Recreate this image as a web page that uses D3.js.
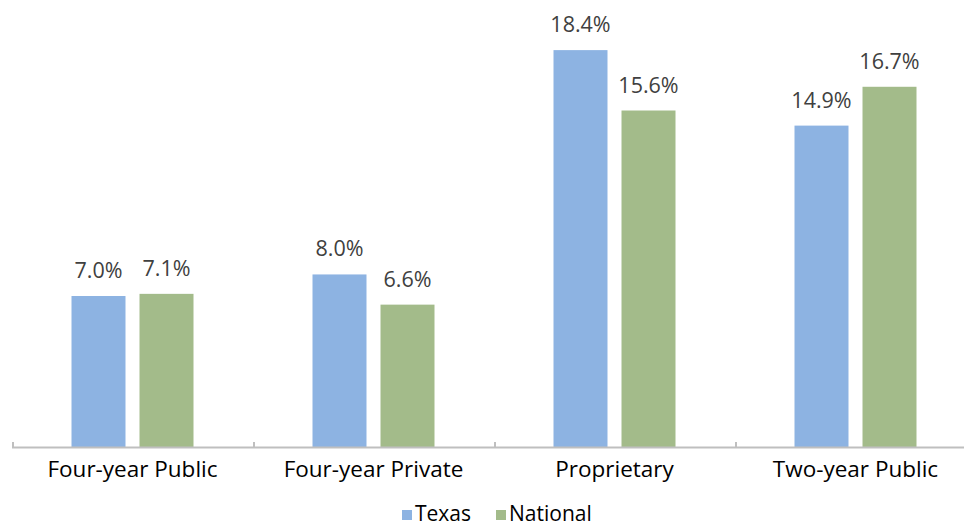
<!DOCTYPE html>
<html>
<head>
<meta charset="utf-8">
<script src="https://cdn.jsdelivr.net/npm/d3@7"></script>
<style>
body { margin: 0; background: #fff; }
svg { display: block; font-family: "Open Sans", "Noto Sans", sans-serif; }
</style>
</head>
<body>
<svg id="chart" width="964" height="527"></svg>
<script>
var categories = ["Four-year Public", "Four-year Private", "Proprietary", "Two-year Public"];
var seriesNames = ["Texas", "National"];
var texas = [7.0, 8.0, 18.4, 14.9];
var national = [7.1, 6.6, 15.6, 16.7];
var colors = ["#8DB3E2", "#A3BB8A"];

var svg = d3.select("#chart");
var x0 = 12, x1 = 976, baseY = 447;

var xScale = d3.scaleBand().domain(categories).range([x0, x1]);
var yScale = d3.scaleLinear().domain([0, 20]).range([baseY, baseY - 431.4]);
var inner = d3.scaleBand().domain(seriesNames).range([0, 122]).paddingInner(0.206);

var rows = categories.map(function(c, i) {
	return {cat: c, vals: [texas[i], national[i]]};
});

var groups = svg.selectAll("g.cat")
	.data(rows)
	.enter()
	.append("g")
	.attr("class", "cat")
	.attr("transform", function(d) {
		return "translate(" + (xScale(d.cat) + xScale.bandwidth() / 2 - 61) + ",0)";
	});

groups.selectAll("rect")
	.data(function(d) { return d.vals.map(function(v, j) { return {s: seriesNames[j], v: v, j: j}; }); })
	.enter()
	.append("rect")
	.attr("x", function(d) { return inner(d.s); })
	.attr("y", function(d) { return yScale(d.v); })
	.attr("width", inner.bandwidth())
	.attr("height", function(d) { return baseY - yScale(d.v); })
	.attr("fill", function(d) { return colors[d.j]; });

groups.selectAll("text.val")
	.data(function(d) { return d.vals.map(function(v, j) { return {s: seriesNames[j], v: v}; }); })
	.enter()
	.append("text")
	.attr("class", "val")
	.attr("x", function(d) { return inner(d.s) + inner.bandwidth() / 2; })
	.attr("y", function(d) { return yScale(d.v) - 18; })
	.attr("text-anchor", "middle")
	.attr("font-size", 21.5)
	.attr("fill", "#404040")
	.text(function(d) { return d.v.toFixed(1) + "%"; });

// axis with ticks pointing up at category boundaries
var axis = svg.append("g");
axis.append("line")
	.attr("x1", x0).attr("x2", x1)
	.attr("y1", baseY + 0.5).attr("y2", baseY + 0.5)
	.attr("stroke", "#BFBFBF").attr("stroke-width", 2);
var bounds = categories.map(function(c) { return xScale(c); });
axis.selectAll("line.tick")
	.data(bounds)
	.enter()
	.append("line")
	.attr("class", "tick")
	.attr("x1", function(d) { return d + 1; }).attr("x2", function(d) { return d + 1; })
	.attr("y1", baseY - 5).attr("y2", baseY + 1)
	.attr("stroke", "#BFBFBF").attr("stroke-width", 2);

axis.selectAll("text")
	.data(categories)
	.enter()
	.append("text")
	.attr("x", function(d) { return xScale(d) + xScale.bandwidth() / 2; })
	.attr("y", 477)
	.attr("text-anchor", "middle")
	.attr("font-size", 22.5)
	.attr("fill", "#000")
	.text(function(d) { return d; });

// legend
var legend = svg.append("g");
var legX = [402, 496];
seriesNames.forEach(function(s, i) {
	legend.append("rect")
		.attr("x", legX[i]).attr("y", 510)
		.attr("width", 10).attr("height", 10)
		.attr("fill", colors[i]);
	legend.append("text")
		.attr("x", legX[i] + 13).attr("y", 521)
		.attr("font-size", 21)
		.attr("fill", "#000")
		.text(s);
});
</script>
</body>
</html>
